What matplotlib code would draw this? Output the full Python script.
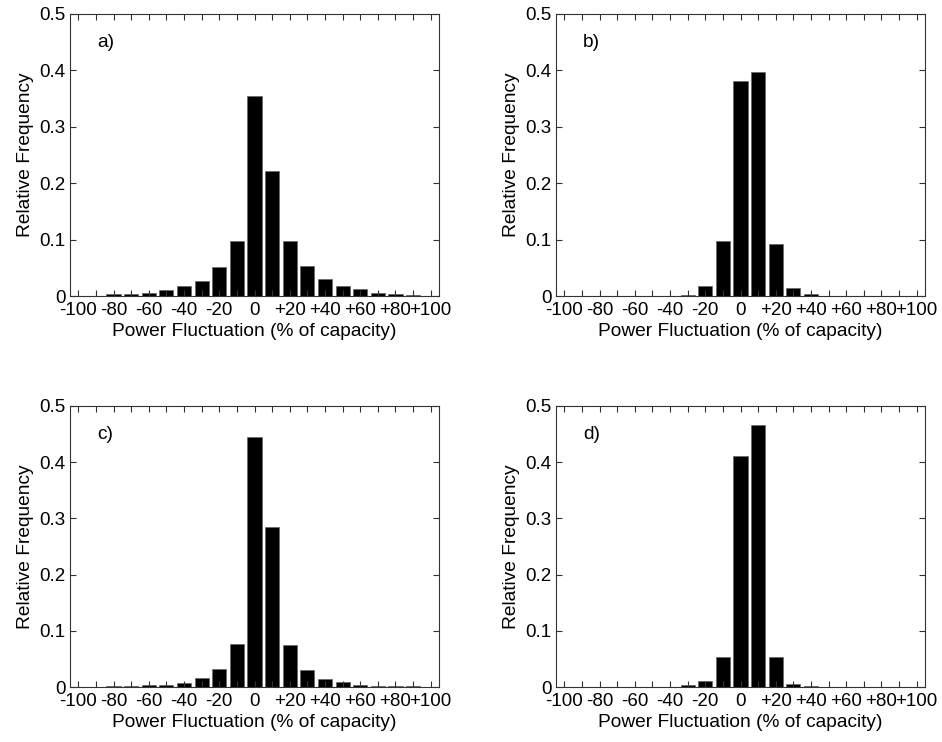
import numpy as np
import matplotlib
matplotlib.use('Agg')
import matplotlib.pyplot as plt

plt.rcParams['font.family'] = ['Liberation Sans', 'DejaVu Sans']

# Bin centres (% of capacity)
bins = [-100, -90, -80, -70, -60, -50, -40, -30, -20, -10, 0,
        10, 20, 30, 40, 50, 60, 70, 80, 90, 100]

# Relative frequency per panel
freq_a = [0.0, 0.0, 0.003, 0.004, 0.005, 0.011, 0.017, 0.027, 0.051, 0.098, 0.355,
          0.222, 0.098, 0.054, 0.031, 0.017, 0.012, 0.006, 0.0035, 0.0015, 0.0]
freq_b = [0.0, 0.0, 0.0, 0.0, 0.0, 0.0, 0.0005, 0.002, 0.018, 0.098, 0.382,
          0.397, 0.093, 0.015, 0.003, 0.0, 0.0, 0.0, 0.0, 0.0, 0.0]
freq_c = [0.0, 0.0, 0.001, 0.0018, 0.003, 0.004, 0.0077, 0.016, 0.0325, 0.076, 0.445,
          0.284, 0.0746, 0.030, 0.015, 0.009, 0.004, 0.002, 0.0015, 0.001, 0.0]
freq_d = [0.0, 0.0, 0.0, 0.0, 0.0, 0.0, 0.0005, 0.003, 0.011, 0.053, 0.411,
          0.466, 0.053, 0.006, 0.001, 0.0, 0.0, 0.0, 0.0, 0.0, 0.0]

panel_labels = ['a)', 'b)', 'c)', 'd)']
xtick_vals = list(range(-100, 101, 10))
xtick_text = ['-100', '', '-80', '', '-60', '', '-40', '', '-20', '', '0',
              '', '+20', '', '+40', '', '+60', '', '+80', '', '+100']
ytick_vals = [0, 0.1, 0.2, 0.3, 0.4, 0.5]
ytick_text = ['0', '0.1', '0.2', '0.3', '0.4', '0.5']

W, H = 942., 742.
fig = plt.figure(figsize=(W / 100, H / 100), dpi=100)

# axes boxes in pixels: left, top, right, bottom
boxes = [(70, 14, 439, 296), (556, 14, 925, 296),
         (70, 406, 439, 687), (556, 406, 925, 687)]
series = [freq_a, freq_b, freq_c, freq_d]

for box, freq, lab in zip(boxes, series, panel_labels):
    l, t, r, b = box
    ax = fig.add_axes([l / W, 1 - b / H, (r - l) / W, (b - t) / H])
    ax.bar(bins, freq, width=8, color='black', edgecolor='#666666', linewidth=0.5)
    ax.set_xlim(-104.7, 104.7)
    ax.set_ylim(0, 0.5)
    ax.set_xticks(xtick_vals)
    ax.set_xticklabels(xtick_text)
    ax.set_yticks(ytick_vals)
    ax.set_yticklabels(ytick_text)
    ax.tick_params(direction='in', top=True, right=True, length=4, width=0.8,
                   labelsize=13.5, color='#333333')
    ax.tick_params(axis='x', pad=4.5)
    ax.tick_params(axis='y', pad=3)
    for sp in ax.spines.values():
        sp.set_color('#333333')
        sp.set_linewidth(0.8)
    ax.set_xlabel('Power Fluctuation (% of capacity)', fontsize=13.8, labelpad=3)
    ax.set_ylabel('Relative Frequency', fontsize=13.8, labelpad=4)
    ax.text(0.073, 0.9, lab, transform=ax.transAxes, fontsize=13.8, va='center', ha='left')

fig.savefig('out.png', dpi=100, facecolor='white')
